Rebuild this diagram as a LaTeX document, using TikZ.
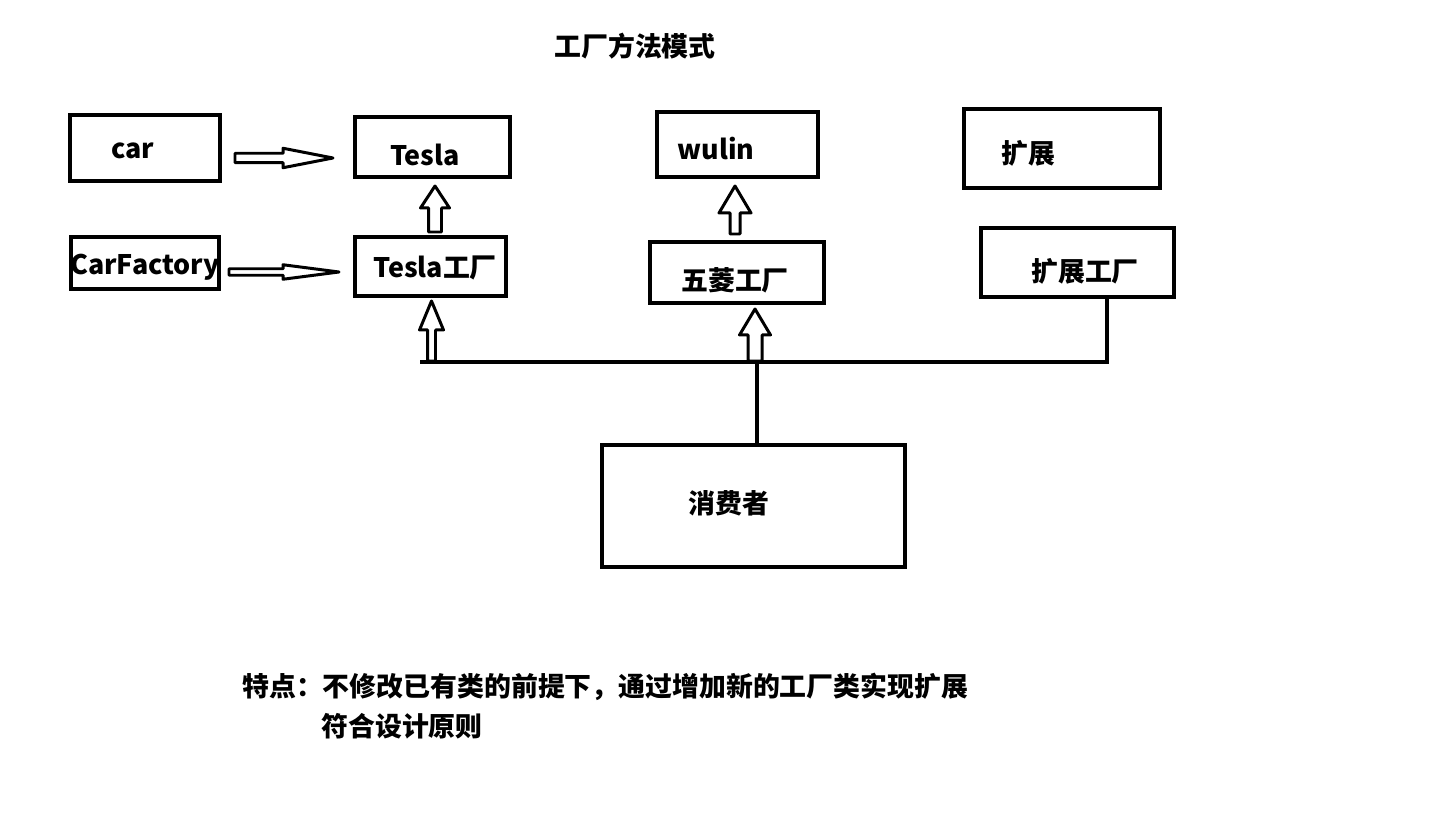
\documentclass[tikz,border=0pt]{standalone}
\usepackage{fontspec}
\setmainfont{Noto Sans CJK SC}
\usetikzlibrary{calc}

\tikzset{
  box/.style={draw, line width=2.3pt, inner sep=0pt},
  lbl/.style={font=\fontsize{15.3}{18}\selectfont\bfseries, inner sep=0pt},
  blockarrow/.style={draw, line width=1.7pt, line join=round, fill=white},
  bus/.style={line width=2.4pt}
}

% hollow block arrow: [opts]{tail}{tip}{shaft half}{head half}{head length}
\newcommand\hollowarrow[6][]{%
  \coordinate (hb) at ($(#3)!#6!(#2)$);
  \draw[blockarrow,#1] ($(#2)!#4!90:(#3)$) -- ($(hb)!#4!90:(#3)$)
    -- ($(hb)!#5!90:(#3)$) -- (#3) -- ($(hb)!#5!-90:(#3)$)
    -- ($(hb)!#4!-90:(#3)$) -- ($(#2)!#4!-90:(#3)$) -- cycle;}

\begin{document}
\begin{tikzpicture}[x=0.02cm, y=-0.02cm]
            \useasboundingbox (0,0) rectangle (1436,813);
            % Title
            \node[lbl] (title) at (635,46) {工厂方法模式};
            % Products
            \node[box, minimum width=3.00cm, minimum height=1.32cm] (car)   at (145,148)    {};
            \node[box, minimum width=3.10cm, minimum height=1.20cm] (tesla) at (432.5,147)  {};
            \node[box, minimum width=3.22cm, minimum height=1.30cm] (wulin) at (737.5,144.5) {};
            \node[box, minimum width=3.92cm, minimum height=1.58cm] (ext)   at (1062,148.5) {};
            % Factories
            \node[box, minimum width=2.96cm, minimum height=1.04cm] (carf)   at (145,263)    {};
            \node[box, minimum width=3.02cm, minimum height=1.18cm] (teslaf) at (430.5,266.5) {};
            \node[box, minimum width=3.48cm, minimum height=1.22cm] (wulinf) at (737,272.5)  {};
            \node[box, minimum width=3.86cm, minimum height=1.38cm] (extf)   at (1077.5,262.5) {};
            % Client
            \node[box, minimum width=6.06cm, minimum height=2.44cm] (consumer) at (753.5,506) {};
            % Box texts
            \node[lbl] (carT)      at (133,151)  {car};
            \node[lbl] (teslaT)    at (425,155)  {Tesla};
            \node[lbl] (wulinT)    at (716,149)  {wulin};
            \node[lbl] (extT)      at (1028,153) {扩展};
            \node[lbl] (carfT)     at (145,267)  {CarFactory};
            \node[lbl] (teslafT)   at (435,268)  {Tesla工厂};
            \node[lbl] (wulinfT)   at (735,280)  {五菱工厂};
            \node[lbl] (extfT)     at (1085,271) {扩展工厂};
            \node[lbl] (consumerT) at (729,503)  {消费者};
            % Bus from client to factories
            \coordinate (busL) at (420,362);
            \coordinate (busR) at (1107,362);
            \coordinate (busM) at (757,362);
            \draw[bus] (busL) -- (busR) -- (busR |- extf.south);
            \draw[bus] (consumer.north -| busM) -- (busM);
            % Block arrows
            \coordinate (a1s) at (235,158);   \coordinate (a1e) at (333,158);
            \coordinate (a2s) at (229,272);   \coordinate (a2e) at (339,272);
            \coordinate (a3s) at (435,232);   \coordinate (a3e) at (435,186);
            \coordinate (a4s) at (735,234);   \coordinate (a4e) at (735,186);
            \coordinate (a5s) at (431.5,361); \coordinate (a5e) at (431.5,301);
            \coordinate (a6s) at (755,361);   \coordinate (a6e) at (755,309);
            \hollowarrow{a1s}{a1e}{0.095cm}{0.195cm}{1.00cm}
            \hollowarrow{a2s}{a2e}{0.065cm}{0.145cm}{1.12cm}
            \hollowarrow{a3s}{a3e}{0.13cm}{0.29cm}{0.44cm}
            \hollowarrow{a4s}{a4e}{0.10cm}{0.32cm}{0.54cm}
            \hollowarrow{a5s}{a5e}{0.08cm}{0.24cm}{0.58cm}
            \hollowarrow{a6s}{a6e}{0.14cm}{0.31cm}{0.52cm}
            % Note
            \node[lbl, anchor=west] (note1) at (242,687) {特点：不修改已有类的前提下，通过增加新的工厂类实现扩展};
            \node[lbl, anchor=west] (note2) at (321,726) {符合设计原则};
        \end{tikzpicture}
\end{document}
